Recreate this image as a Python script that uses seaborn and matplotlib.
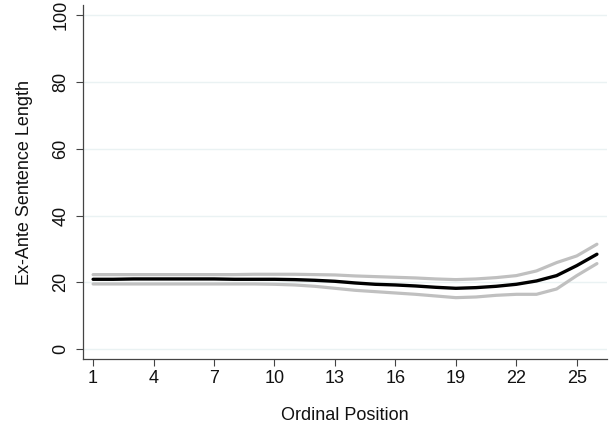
"""Ex-ante sentence length by ordinal position, with upper/lower bands."""

import matplotlib

matplotlib.use("Agg")

import matplotlib.pyplot as plt
import pandas as pd
import seaborn as sns

sns.set_theme(style="white")
plt.rcParams["font.family"] = ["Liberation Sans", "DejaVu Sans"]

POSITION = list(range(1, 27))
MEAN_LENGTH = [20.9, 20.9, 21.0, 21.0, 21.0, 21.0, 21.0, 20.9, 20.9, 20.9,
               20.8, 20.6, 20.3, 19.8, 19.4, 19.2, 18.9, 18.5, 18.2, 18.4,
               18.8, 19.4, 20.4, 22.0, 25.0, 28.4]
UPPER_BAND = [22.3, 22.3, 22.3, 22.3, 22.3, 22.3, 22.3, 22.3, 22.4, 22.4,
              22.4, 22.3, 22.2, 21.9, 21.7, 21.5, 21.3, 21.0, 20.8, 21.0,
              21.4, 22.0, 23.4, 25.9, 27.9, 31.4]
LOWER_BAND = [19.5, 19.5, 19.5, 19.5, 19.5, 19.5, 19.5, 19.5, 19.5, 19.4,
              19.2, 18.8, 18.2, 17.6, 17.2, 16.8, 16.4, 15.9, 15.4, 15.6,
              16.1, 16.4, 16.4, 18.0, 22.0, 25.6]
X_TICKS = [1, 4, 7, 10, 13, 16, 19, 22, 25]
Y_TICKS = [0, 20, 40, 60, 80, 100]

df = pd.DataFrame(
    {"position": POSITION, "mean": MEAN_LENGTH, "upper": UPPER_BAND, "lower": LOWER_BAND}
)

fig = plt.figure(figsize=(6.15, 4.28), dpi=100)
ax = fig.add_axes([0.135, 0.161, 0.852, 0.827])

for col in ["upper", "lower"]:
    sns.lineplot(data=df, x="position", y=col, color="#c0c0c0", linewidth=2.3, ax=ax)
sns.lineplot(data=df, x="position", y="mean", color="black", linewidth=2.4, ax=ax)

ax.set_xlim(0.5, 26.5)
ax.set_ylim(-3, 103)
ax.set_xticks(X_TICKS)
ax.set_yticks(Y_TICKS)
ax.set_yticklabels([str(t) for t in Y_TICKS], rotation=90, va="center")
ax.grid(axis="y", color="#eaf2f3", linewidth=1.0)
ax.set_axisbelow(True)

sns.despine(ax=ax)
for side in ["left", "bottom"]:
    ax.spines[side].set_color("#444444")
    ax.spines[side].set_linewidth(0.9)
ax.tick_params(axis="both", direction="out", length=5, width=0.8, color="#444444",
               labelsize=13, labelcolor="#111111", pad=3)
ax.tick_params(axis="y", left=True, pad=5)
ax.tick_params(axis="x", bottom=True)

ax.set_xlabel("Ordinal Position", fontsize=13, color="#111111", labelpad=14)
ax.set_ylabel("Ex-Ante Sentence Length", fontsize=13, color="#111111", labelpad=14)

fig.savefig("out.png", dpi=100)
plt.close(fig)
